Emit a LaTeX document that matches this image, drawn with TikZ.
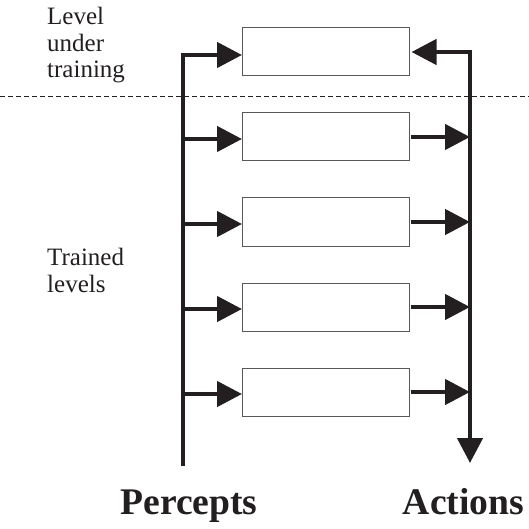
\documentclass[tikz,border=0pt]{standalone}
\usepackage{fontspec}
\setmainfont{Liberation Serif}
\newfontfamily\timesreg{Liberation Serif}
\usetikzlibrary{arrows.meta}
\definecolor{ink}{RGB}{35,31,32}
\begin{document}
\begin{tikzpicture}[x=1pt,y=-1pt,
  levelbox/.style={draw=black!65, line width=1pt, minimum width=167pt, minimum height=48pt, inner sep=0pt, outer sep=0pt, anchor=north west},
  tip/.tip={Triangle[length=25pt,width=25pt]},
  flow/.style={draw=ink, line width=4.5pt, line join=miter},
  lbl/.style={font=\timesreg\fontsize{25}{26.5}\selectfont, align=left, anchor=north west, inner sep=0pt, text=ink},
  big/.style={font=\timesreg\fontsize{37.6}{40}\selectfont\bfseries, inner sep=0pt, anchor=base, text=ink}]
\useasboundingbox (0,0) rectangle (529,529);
% dashed separator
\coordinate (dl) at (0,96);
\coordinate (dr) at (529,96);
\draw[draw=ink, line width=0.8pt, dash pattern=on 5pt off 3pt] (dl) -- (dr);
% boxes
\node[levelbox] (b0) at (242,28) {};
\node[levelbox] (b1) at (242,113) {};
\node[levelbox] (b2) at (242,198) {};
\node[levelbox] (b3) at (242,283) {};
\node[levelbox] (b4) at (242,368) {};
% left (percepts) line
\coordinate (Ltop) at (183,55);
\coordinate (Lbot) at (183,466);
\draw[flow, -tip] (Lbot) -- (Ltop) -- (Ltop -| b0.west);
% right (actions) line
\coordinate (Rtop) at (470,52);
\coordinate (Rbot) at (470,463);
\draw[flow, tip-tip] ([xshift=2.5pt]b0.east) -- (Rtop) -- (Rbot);
% arrows into and out of trained levels
\foreach \b in {b1,b2,b3,b4}{
  \path ([yshift=-2pt]\b.west) coordinate (\b in);
  \draw[flow, -tip] (Ltop |- \b in) -- (\b in);
  \draw[flow, -tip] ([xshift=1.5pt]\b.east) -- (\b.east -| Rtop);
}
% labels
\node[lbl] (lut) at (47,7) {Level\\under\\training};
\node[lbl] (tl) at (47,248) {Trained\\levels};
\node[big] (pc) at (189,514) {Percepts};
\node[big] (ac) at (463.5,514) {Actions};
\end{tikzpicture}
\end{document}
